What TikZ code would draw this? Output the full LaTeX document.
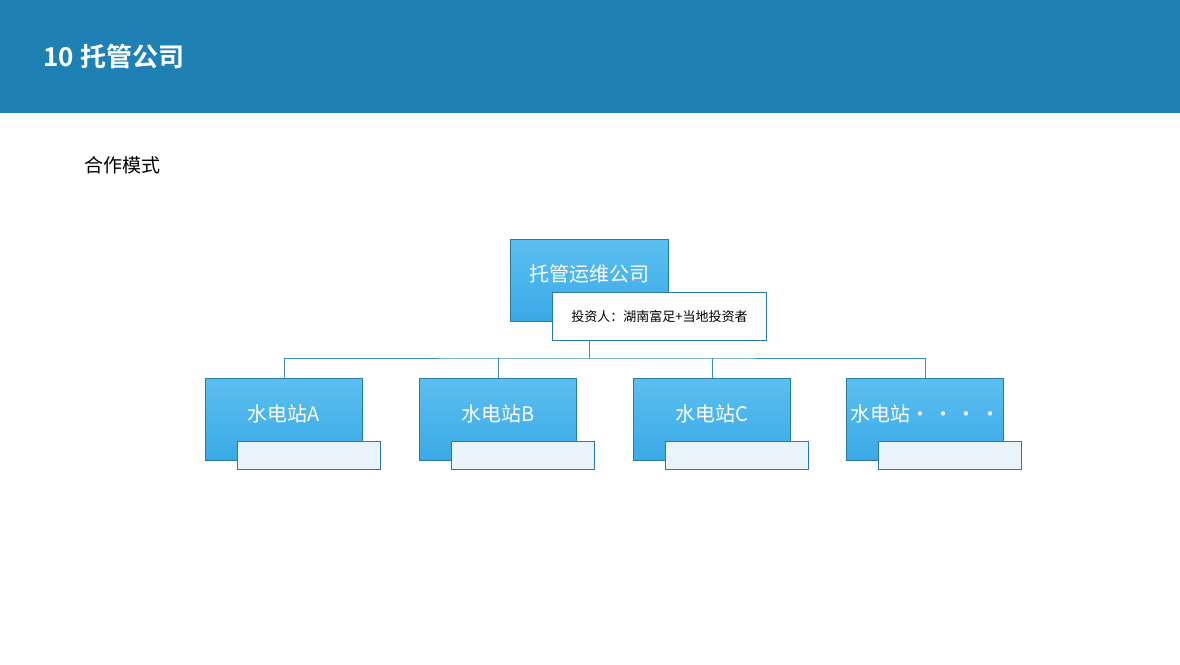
\documentclass[tikz,border=0pt]{standalone}
\usepackage{fontspec}
\setmainfont{Noto Sans}
\newfontfamily\cjk{Noto Sans CJK SC}
\newfontfamily\cjkb{Noto Sans CJK SC Bold}
\definecolor{hdr}{HTML}{1F80B3}
\definecolor{boxa}{HTML}{3AA9E6}
\definecolor{boxb}{HTML}{5BBFF0}
\definecolor{edge}{HTML}{2A7BA8}
\definecolor{lnk}{HTML}{3C8DBA}
\definecolor{subf}{HTML}{E8F3FA}
\tikzset{
 mainbox/.style={draw=edge, line width=1pt, top color=boxb, bottom color=boxa, minimum width=157pt, minimum height=82pt, inner sep=0pt, anchor=north west, text=white, font=\cjk\fontsize{20}{24}\selectfont},
 subbox/.style={draw=edge, line width=0.8pt, fill=subf, anchor=north west, inner sep=0pt},
 link/.style={draw=lnk, line width=0.8pt}
}
\begin{document}
\begin{tikzpicture}[x=1pt,y=-1pt]
\useasboundingbox (0,0) rectangle (1180,664);
\fill[hdr] (0,0) rectangle (1180,113);
\node[anchor=west,text=white,font=\cjkb\fontsize{26}{30}\selectfont] (title) at (40,57) {10 托管公司};
\node[anchor=west,font=\cjk\fontsize{19}{23}\selectfont] (mode) at (81,165) {合作模式};
% top
\node[mainbox, minimum width=158pt] (top) at (510,239) {};
\node[text=white,font=\cjk\fontsize{20}{24}\selectfont] (toptxt) at (589,274) {托管运维公司};
\node[subbox, minimum width=214pt, minimum height=48pt, font=\cjk\fontsize{13}{16}\selectfont, fill=white!94!subf] (inv) at (552,292) {投资人：湖南富足+当地投资者};
% children
\foreach \n/\x/\t in {a/205/水电站A, b/419/水电站B, c/633/水电站C, d/846/水电站·\,·\,·\,·} {
  \node[mainbox] (\n) at (\x,378) {};
  \node[text=white,font=\cjk\fontsize{20}{24}\selectfont] (\n t) at ([yshift=-36pt]\n.north) {\t};
  \node[subbox, minimum width=143pt, minimum height=28pt] (\n s) at (\x+32,441) {};
}
\coordinate (j) at (589,358);
\draw[link] (inv.south -| j) -- (j);
\draw[link] (a.north) |- (j) -| (d.north);
\draw[link] (b.north) -- (b.north |- j);
\draw[link] (c.north) -- (c.north |- j);
\end{tikzpicture}
\end{document}
